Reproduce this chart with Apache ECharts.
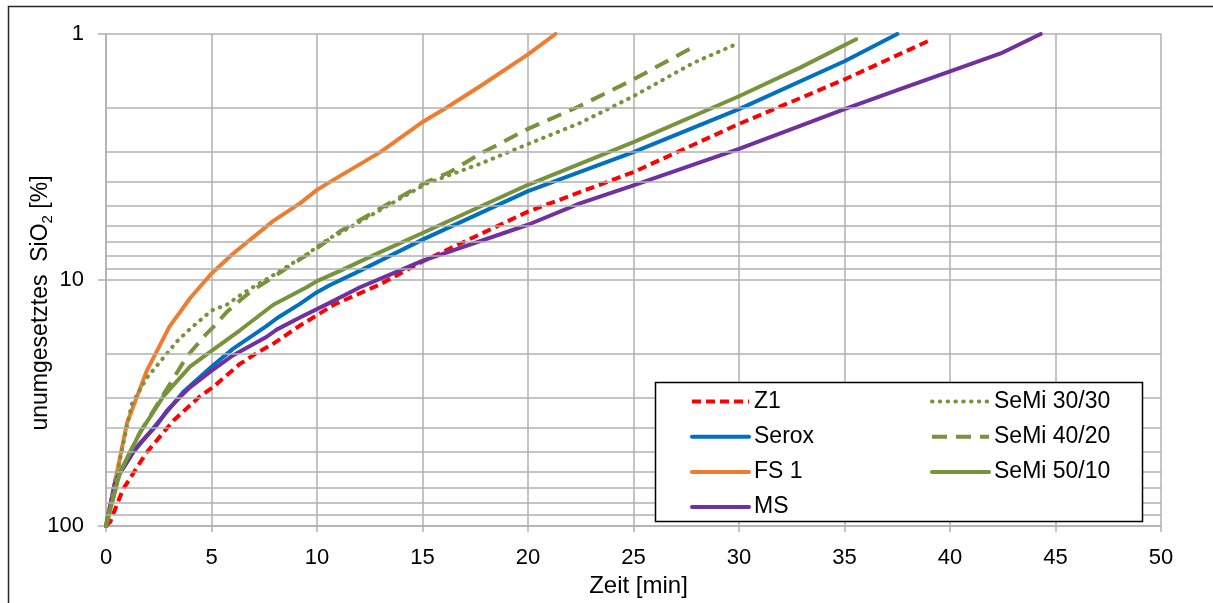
<!DOCTYPE html>
<html>
<head>
<meta charset="utf-8">
<script src="https://cdn.jsdelivr.net/npm/echarts@6/dist/echarts.min.js"></script>
<style>
html,body{margin:0;padding:0;background:#fff;}
#chart{width:1213px;height:603px;}
</style>
</head>
<body>
<div id="chart"></div>
<script>
// ---- data (time [min], unconverted SiO2 [%]) ----
const seriesNames = ['Z1', 'Serox', 'FS 1', 'MS', 'SeMi 30/30', 'SeMi 40/20', 'SeMi 50/10'];
const xTicks = [0, 5, 10, 15, 20, 25, 30, 35, 40, 45, 50];
const yTicks = [1, 10, 100];
const minorGridValues = [2, 3, 4, 5, 6, 7, 8, 9, 20, 30, 40, 50, 60, 70, 80, 90];
const xTitle = 'Zeit [min]';
const yTitle = '{a|unumgesetztes  SiO}{s|2}{a| [%]}';

const z1 = [[0,100],[0.2,96],[0.8,71],[1.9,50.5],[3.2,37.2],[4.45,29.7],[5.1,27.1],[6.35,21.9],[7.1,19.9],[7.9,18.2],[9.2,15.3],[10.8,12.6],[13,10.4],[15,8.4],[20,5.27],[25,3.64],[30,2.32],[35,1.53],[39.05,1.06]];
const serox = [[0,100],[0.45,65],[1.3,50],[2.4,38.5],[3.66,28.5],[5,22.5],[6.03,19],[7.6,15.4],[8.1,14.3],[9.19,12.5],[10,11.2],[10.6,10.5],[12,9.2],[15,6.85],[20,4.35],[25,3.02],[30,2.02],[35,1.29],[37.5,1.0]];
const fs1 = [[0,100],[1,38],[1.93,23.4],[3,15.5],[4,11.8],[5,9.4],[6.03,7.8],[7.93,5.75],[9.19,4.88],[10,4.3],[10.6,4.0],[13,3.02],[14.96,2.29],[16.15,1.99],[17.73,1.63],[20,1.21],[21.3,1.0]];
const ms = [[0,100],[0.45,65],[1.29,50],[1.61,46],[2.4,39],[2.88,34],[3.66,29],[3.98,27.3],[4.93,23.6],[6.03,20.2],[7.62,17.0],[8.09,15.9],[9.19,14.2],[10.5,12.5],[12.04,10.7],[13.46,9.5],[14.96,8.37],[20,5.96],[22.46,4.88],[25,4.12],[30,2.93],[32.9,2.36],[35,2.02],[37.6,1.68],[40,1.42],[42.4,1.2],[44.3,1.0]];
const semi3030 = [[0,100],[1,39],[1.22,32],[1.93,25],[2.56,21.5],[3.35,17.8],[3.98,15.8],[4.45,14.6],[5,13.3],[5.72,12.6],[6.5,11.3],[7.8,9.7],[9.51,7.87],[10.6,6.75],[11.09,6.44],[15.2,4.05],[17.73,3.37],[20,2.8],[22.46,2.3],[25,1.79],[27.84,1.31],[29.86,1.1]];
const semi4020 = [[0,100],[0.66,60.4],[1.61,41.7],[2.72,29.2],[3.35,23.9],[3.82,20.5],[4.77,16.5],[5.09,15.5],[5.72,13.5],[6.5,11.8],[6.82,11.2],[7.77,9.93],[8.72,8.77],[9.98,7.45],[11.09,6.34],[15.2,3.99],[16.3,3.64],[17.73,3.07],[20,2.43],[22.3,1.99],[25,1.53],[26.73,1.27],[28,1.11]];
const semi5010 = [[0,100],[0.66,60.4],[1.61,41.7],[2.72,29.7],[3.98,22.5],[5,19.4],[6.35,16.0],[7.93,12.6],[9.51,10.7],[10,10.1],[11.09,9.18],[13,7.7],[15,6.44],[20,4.1],[25,2.75],[30,1.79],[32.9,1.37],[35.55,1.05]];

const seriesData = [z1, serox, fs1, ms, semi3030, semi4020, semi5010];
const colors = ['#FF0000', '#0070C0', '#ED7D31', '#7030A0', '#77933C', '#77933C', '#77933C'];
const dashes = [[9, 5], 'solid', 'solid', 'solid', [0.5, 7.3], [15, 9], 'solid'];
const caps = ['butt', 'round', 'round', 'round', 'round', 'butt', 'round'];

const FONT = 'Liberation Sans, Arial, sans-serif';
const GRID = '#b0b0b0';

const chart = echarts.init(document.getElementById('chart'), null, {renderer: 'canvas'});

const lineSeries = seriesNames.map((n, i) => ({
  name: n,
  type: 'line',
  data: seriesData[i],
  showSymbol: false,
  symbol: 'none',
  smooth: false,
  z: 3,
  lineStyle: {color: colors[i], width: 4, type: dashes[i], cap: caps[i], join: 'round'},
  itemStyle: {color: colors[i]},
  emphasis: {disabled: true}
}));

const legendCommon = {
  orient: 'vertical', top: 390, padding: 0,
  itemWidth: 57, itemHeight: 22, itemGap: 12.2, z: 10,
  itemStyle: {opacity: 0, borderWidth: 0},
  lineStyle: {width: 4},
  textStyle: {fontSize: 23, color: '#000', fontFamily: FONT, lineHeight: 22},
  selectedMode: false
};

const option = {
  animation: false,
  backgroundColor: '#ffffff',
  textStyle: {fontFamily: FONT},
  grid: {left: 106, right: 52, top: 34, bottom: 72, containLabel: false},
  xAxis: {
    type: 'value', min: 0, max: 50, interval: 5,
    name: xTitle, nameLocation: 'middle', nameGap: 42,
    nameTextStyle: {fontSize: 24, color: '#000', fontFamily: FONT, padding: [0, 0, 0, 10]},
    axisLine: {show: true, lineStyle: {color: GRID, width: 1.5}},
    axisTick: {show: true, length: 6, lineStyle: {color: GRID, width: 1.5}},
    splitLine: {show: true, lineStyle: {color: GRID, width: 1.5}},
    axisLabel: {fontSize: 22, color: '#000', margin: 21, fontFamily: FONT,
      formatter: v => xTicks.indexOf(v) >= 0 ? String(v) : ''}
  },
  yAxis: {
    type: 'log', logBase: 10, min: yTicks[0], max: yTicks[yTicks.length - 1], inverse: true,
    axisLine: {show: true, lineStyle: {color: GRID, width: 1.5}},
    axisTick: {show: true, length: 8, lineStyle: {color: GRID, width: 1.5}},
    splitLine: {show: true, lineStyle: {color: GRID, width: 1.5}},
    axisLabel: {fontSize: 22, color: '#000', margin: 22, fontFamily: FONT,
      formatter: v => String(v)}
  },
  legend: [
    Object.assign({}, legendCommon, {data: seriesNames.slice(0, 4), left: 690}),
    Object.assign({}, legendCommon, {data: seriesNames.slice(4), left: 930})
  ],
  graphic: [
    {type: 'rect', z: 8, silent: true,
      shape: {x: 655.5, y: 382.5, width: 487, height: 139},
      style: {fill: '#fff', stroke: '#000', lineWidth: 1.5}},
    {type: 'rect', z: 8, silent: true,
      shape: {x: 8.5, y: 6.5, width: 1300, height: 700},
      style: {fill: 'none', stroke: '#262626', lineWidth: 1.5}},
    {type: 'text', z: 8, silent: true, x: 41, y: 303, rotation: Math.PI / 2,
      style: {
        text: yTitle, align: 'center', verticalAlign: 'middle',
        rich: {
          a: {fontSize: 23, fill: '#000', fontFamily: FONT, lineHeight: 30, verticalAlign: 'middle'},
          s: {fontSize: 15, fill: '#000', fontFamily: FONT, verticalAlign: 'bottom', padding: [0, 0, 1, 0]}
        }
      }}
  ],
  series: [
    {
      name: '_grid', type: 'line', data: [], z: 1, silent: true,
      markLine: {
        silent: true, symbol: ['none', 'none'], animation: false,
        label: {show: false},
        lineStyle: {color: GRID, type: 'solid', width: 1.5},
        emphasis: {disabled: true},
        data: minorGridValues.map(v => ({yAxis: v}))
      }
    }
  ].concat(lineSeries)
};

chart.setOption(option);
</script>
</body>
</html>
